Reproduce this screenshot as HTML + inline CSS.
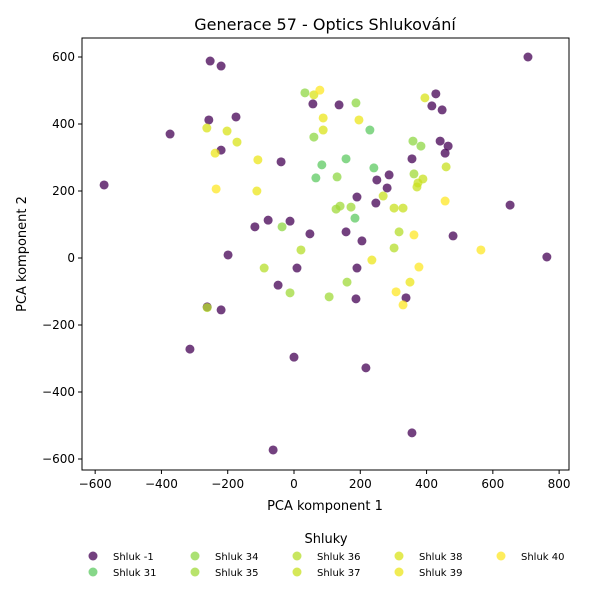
<!DOCTYPE html>
<html><head><meta charset="utf-8"><style>
body{margin:0;background:#fff;font-family:"Liberation Sans","DejaVu Sans",sans-serif}
svg text{font-family:"DejaVu Sans","Liberation Sans",sans-serif;fill:#000}
</style></head><body>
<svg id="chart" width="600" height="600" xmlns="http://www.w3.org/2000/svg"></svg>
<script>
const clusterNames=["Shluk -1","Shluk 31","Shluk 34","Shluk 35","Shluk 36","Shluk 37","Shluk 38","Shluk 39","Shluk 40"];
const clusterColors=["#440154","#5ec962","#8fd744","#a0da39","#b5de2b","#c8e020","#dae319","#ece51b","#fde725"];
const c0x=[706,-253,-220,428,416,447,57,136,-257,-175,-220,-39,441,465,456,356,287,250,281,190,247,-118,-78,-12,48,157,205,480,-199,9,190,-48,187,338,-262,-220,-573,-374,652,763,-314,0,217,356,-63];
const c0y=[600,588,573,490,454,442,460,457,412,421,322,287,349,334,313,296,248,233,209,182,164,93,113,110,72,78,51,66,9,-30,-30,-81,-122,-119,-146,-155,218,370,158,3,-272,-296,-328,-522,-573];
const c31x=[229,84,157,241,66,184];
const c31y=[382,278,296,269,239,119];
const c34x=[187,33,60,359,383,130,-36];
const c34y=[463,493,361,349,334,242,93];
const c35x=[362,127,139,172,160,-12,106];
const c35y=[251,146,155,152,-72,-104,-116];
const c36x=[-90,21,-262,317,302];
const c36y=[-30,24,-148,78,30];
const c37x=[459,389,374,371,269,302,329];
const c37y=[272,236,224,212,185,149,149];
const c38x=[395,88,-202,-172,-263,60];
const c38y=[478,382,379,346,388,487];
const c39x=[88,196,-238,-109,-112,235,350];
const c39y=[418,412,313,293,200,-6,-72];
const c40x=[78,-235,456,362,377,308,329,564];
const c40y=[501,206,170,69,-27,-101,-140,24];
const xTicks=[-600,-400,-200,0,200,400,600,800];
const yTicks=[-600,-400,-200,0,200,400,600];
const X=v=>294+v*0.3314, Y=v=>258-v*0.335;
const svg=document.getElementById('chart');const NS="http://www.w3.org/2000/svg";
function mk(t,a,txt){const e=document.createElementNS(NS,t);for(const k in a)e.setAttribute(k,a[k]);if(txt!=null)e.textContent=txt;svg.appendChild(e);return e;}
let e=mk('text',{x:325,y:30,'text-anchor':'middle','font-size':16},'Generace 57 - Optics Shlukování');


const sx=[c0x,c31x,c34x,c35x,c36x,c37x,c38x,c39x,c40x], sy=[c0y,c31y,c34y,c35y,c36y,c37y,c38y,c39y,c40y];
sx.forEach((xs,i)=>xs.forEach((v,j)=>{const p=mk('circle',{cx:X(v),cy:Y(sy[i][j]),r:4.5,fill:clusterColors[i],'fill-opacity':0.75});

}));
e=mk('rect',{x:82,y:38,width:487,height:432,fill:'none',stroke:'#000','stroke-width':1});


xTicks.forEach(t=>{mk('line',{x1:X(t),x2:X(t),y1:470,y2:474,stroke:'#000'});const l=mk('text',{x:X(t),y:488,'text-anchor':'middle','font-size':12},t<0?'−'+(-t):t);

});
yTicks.forEach(t=>{mk('line',{x1:78,x2:82,y1:Y(t),y2:Y(t),stroke:'#000'});const l=mk('text',{x:75,y:Y(t)+4,'text-anchor':'end','font-size':12},t<0?'−'+(-t):t);

});
e=mk('text',{x:325,y:510,'text-anchor':'middle','font-size':13},'PCA komponent 1');


e=mk('text',{x:26,y:254,'text-anchor':'middle','font-size':13,transform:'rotate(-90 26 254)'},'PCA komponent 2');


e=mk('text',{x:326,y:543,'text-anchor':'middle','font-size':13},'Shluky');


clusterNames.forEach((n,i)=>{const col=Math.floor(i/2),row=i%2;const lx=93+col*102,ly=556+row*16;
const c=mk('circle',{cx:lx,cy:ly,r:4.5,fill:clusterColors[i],'fill-opacity':0.75});


const t=mk('text',{x:lx+20,y:ly+4,'font-size':10},n);

});
</script></body></html>
